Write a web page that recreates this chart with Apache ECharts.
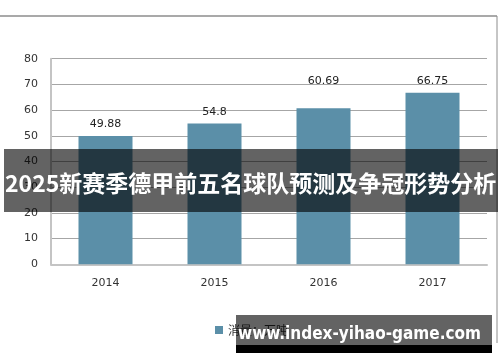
<!DOCTYPE html>
<html><head><meta charset="utf-8">
<script src="https://cdn.jsdelivr.net/npm/echarts@6/dist/echarts.min.js"></script>
<style>html,body{margin:0;padding:0;background:#fff}#c{width:500px;height:362px}</style>
</head><body><div id="c"></div>
<script>
var years = ['2014', '2015', '2016', '2017'];
var values = [49.88, 54.8, 60.69, 66.75];
var yTicks = [0, 10, 20, 30, 40, 50, 60, 70, 80];
var seriesName = '消量：万吨';
var bannerText = '2025新赛季德甲前五名球队预测及争冠形势分析';
var siteText = 'www.index-yihao-game.com';

var chart = echarts.init(document.getElementById('c'), null, {renderer: 'canvas'});
chart.setOption({
  animation: false,
  backgroundColor: '#fff',
  grid: {left: 51, right: 13, top: 58.7, bottom: 97.7, containLabel: false},
  xAxis: {
    type: 'category', data: years,
    axisLine: {lineStyle: {color: '#c4c4c4', width: 2}},
    axisTick: {show: false},
    axisLabel: {color: '#333', fontSize: 11, fontFamily: 'DejaVu Sans', margin: 13}
  },
  yAxis: {
    type: 'value', min: yTicks[0], max: yTicks[yTicks.length - 1], interval: 10,
    axisLine: {show: true, lineStyle: {color: '#c4c4c4', width: 2}},
    axisTick: {show: false},
    axisLabel: {color: '#333', fontSize: 11, fontFamily: 'DejaVu Sans', margin: 13},
    splitLine: {lineStyle: {color: '#a6a6a6', width: 1}}
  },
  legend: {
    show: true, left: 210, top: 319, itemWidth: 8, itemHeight: 8, icon: 'rect',
    textStyle: {color: '#333', fontSize: 12, fontFamily: 'Noto Sans CJK SC'},
    itemGap: 4, data: [seriesName]
  },
  series: [{
    name: seriesName, type: 'bar', barWidth: 54,
    data: values.map(function (v, i) { return i === 2 ? {value: v, label: {distance: 22}} : v; }),
    itemStyle: {color: '#5b8fa8'},
    label: {show: true, position: 'top', distance: 6, color: '#222', fontSize: 11, fontFamily: 'DejaVu Sans'}
  }],
  graphic: [
    {type: 'line', shape: {x1: 0, y1: 16, x2: 497, y2: 16}, style: {stroke: '#8c8c8c', lineWidth: 1.5}, z: 100},
    {type: 'line', shape: {x1: 497, y1: 16, x2: 497, y2: 343}, style: {stroke: '#8c8c8c', lineWidth: 1}, z: 100},
    {type: 'rect', shape: {x: 4, y: 149, width: 494, height: 63}, style: {fill: 'rgba(0,0,0,0.61)'}, z: 100},
    {type: 'text', x: 5, y: 183, style: {text: bannerText, fill: '#fff', font: 'bold 23px "Noto Sans CJK SC"', textVerticalAlign: 'middle', textAlign: 'left'}, z: 101},
    {type: 'rect', shape: {x: 236, y: 315, width: 256, height: 30}, style: {fill: 'rgba(0,0,0,0.61)'}, z: 100},
    {type: 'rect', shape: {x: 236, y: 345, width: 256, height: 8}, style: {fill: '#000'}, z: 100},
    {type: 'text', x: 238, y: 335, style: {text: siteText, fill: '#fff', font: 'bold 17px "DejaVu Sans Condensed"', textVerticalAlign: 'middle', textAlign: 'left'}, z: 101}
  ]
});
</script></body></html>
